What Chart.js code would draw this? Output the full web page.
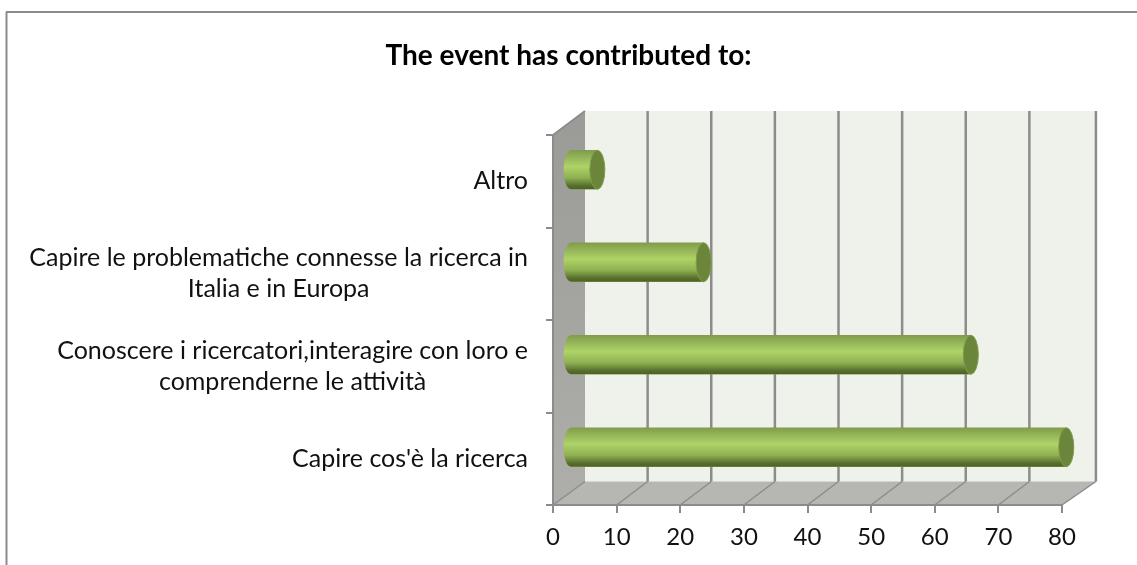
<!DOCTYPE html>
<html>
<head>
<meta charset="utf-8">
<title>The event has contributed to:</title>
<script src="https://cdn.jsdelivr.net/npm/chart.js@4"></script>
<style>
  html, body { margin: 0; padding: 0; background: #fff; }
  canvas { display: block; }
</style>
</head>
<body>
<canvas id="chart" width="1137" height="565"></canvas>
<script>
const chartTitle = 'The event has contributed to:';
const categories = [
  ['Altro'],
  ['Capire le problematiche connesse la ricerca in', 'Italia e in Europa'],
  ['Conoscere i ricercatori,interagire con loro e', 'comprenderne le attività'],
  ["Capire cos'è la ricerca"]
];
const values = [4.3, 21, 63, 78];
const xTicks = [0, 10, 20, 30, 40, 50, 60, 70, 80];

const lineGray = '#8c8c8c';
const depthX = 32, depthY = 23.5;
const barShiftX = 17, barShiftY = -11.5;
const capRx = 7.5;
const labelFont = '25px Lato';

function line(ctx, x1, y1, x2, y2, w) {
  ctx.beginPath();
  ctx.moveTo(x1, y1);
  ctx.lineTo(x2, y2);
  ctx.lineWidth = w || 2;
  ctx.strokeStyle = lineGray;
  ctx.stroke();
}

function poly(ctx, pts, fill) {
  ctx.beginPath();
  pts.forEach((p, i) => i ? ctx.lineTo(p[0], p[1]) : ctx.moveTo(p[0], p[1]));
  ctx.closePath();
  ctx.fillStyle = fill;
  ctx.fill();
}

function barGradient(ctx, y) {
  const g = ctx.createLinearGradient(0, y - 20, 0, y + 20);
  g.addColorStop(0, '#7f9a4c');
  g.addColorStop(0.1, '#8aa852');
  g.addColorStop(0.42, '#aed367');
  g.addColorStop(0.7, '#8fb052');
  g.addColorStop(0.9, '#566f2c');
  g.addColorStop(0.97, '#4d6426');
  g.addColorStop(1, '#8ca552');
  return g;
}

// floor, walls, back grid lines and the frame
const walls = {
  id: 'walls',
  beforeDraw(chart) {
    const { ctx, chartArea: a, scales: { x } } = chart;
    const backTop = a.top - 24, backBottom = a.bottom - depthY;
    ctx.save();
    line(ctx, 6.5, 12, 6.5, 565);
    line(ctx, 6, 12, 1137, 12);

    poly(ctx, [[a.left + depthX, backTop], [a.right + depthX + 2, backTop], [a.right + depthX + 2, backBottom], [a.left + depthX, backBottom]], '#eff1eb');
    poly(ctx, [[a.left, a.bottom], [a.left + depthX, backBottom], [a.right + depthX + 2, backBottom], [a.right, a.bottom]], '#b6b7b2');
    const wg = ctx.createLinearGradient(0, backTop, 0, a.bottom);
    wg.addColorStop(0, '#9a9b96');
    wg.addColorStop(1, '#aeafaa');
    poly(ctx, [[a.left, a.top], [a.left + depthX, backTop], [a.left + depthX, backBottom], [a.left, a.bottom]], wg);

    xTicks.forEach((t, i) => {
      if (!i) return;
      const px = x.getPixelForValue(t);
      const bx = px + depthX * (t === 80 ? 1.06 : 1) - (t === 80 ? 0 : 1);
      line(ctx, bx, backTop, bx, backBottom, 2.5);
      line(ctx, px, a.bottom, bx, backBottom, 1.5);
    });
    line(ctx, a.left, a.top, a.left + depthX, backTop);
    line(ctx, a.left, a.bottom, a.left + depthX, backBottom, 1.5);
    ctx.restore();
  },
  // bars sit halfway into the depth of the box, with cylinder ends
  beforeDatasetDraw(chart) {
    const { ctx } = chart;
    ctx.save();
    ctx.translate(barShiftX, barShiftY);
    chart.getDatasetMeta(0).data.forEach((bar) => {
      ctx.beginPath();
      ctx.ellipse(bar.base, bar.y, capRx, bar.height / 2, 0, Math.PI / 2, Math.PI * 1.5);
      ctx.fillStyle = barGradient(ctx, bar.y);
      ctx.fill();
    });
  },
  afterDatasetDraw(chart) {
    const { ctx } = chart;
    chart.getDatasetMeta(0).data.forEach((bar) => {
      ctx.beginPath();
      ctx.ellipse(bar.x, bar.y, capRx, bar.height / 2, 0, 0, Math.PI * 2);
      ctx.fillStyle = '#6b853a';
      ctx.fill();
      ctx.lineWidth = 1;
      ctx.strokeStyle = '#7f9c48';
      ctx.stroke();
    });
    ctx.restore();
  },
  afterDraw(chart) {
    const { ctx, scales: { y } } = chart;
    ctx.save();
    ctx.font = labelFont;
    ctx.fillStyle = '#111';
    ctx.textBaseline = 'middle';
    ctx.textAlign = 'center';
    categories.forEach((lines, i) => {
      const right = 528;
      const w = Math.max(...lines.map((s) => ctx.measureText(s).width));
      const cy = y.getPixelForTick(i);
      lines.forEach((s, k) => {
        ctx.fillText(s, right - w / 2, cy + (k - (lines.length - 1) / 2) * 31);
      });
    });
    ctx.restore();
  }
};

new Chart(document.getElementById('chart'), {
  type: 'bar',
  plugins: [walls],
  data: {
    labels: categories,
    datasets: [{
      data: values,
      barThickness: 39,
      borderWidth: 0,
      backgroundColor: (c) => barGradient(c.chart.ctx, c.chart.scales.y.getPixelForTick(c.dataIndex))
    }]
  },
  options: {
    indexAxis: 'y',
    responsive: false,
    animation: false,
    events: [],
    layout: { padding: { left: 75, right: 75, top: 0, bottom: 0 } },
    plugins: {
      legend: { display: false },
      tooltip: { enabled: false },
      title: {
        display: true,
        text: chartTitle,
        color: '#000',
        font: { family: 'Lato', size: 28, weight: 'bold', lineHeight: '34px' },
        padding: { top: 39, bottom: 62 }
      }
    },
    scales: {
      x: {
        min: 0,
        max: 80,
        afterFit: (s) => { s.height = 60; },
        afterBuildTicks: (s) => { s.ticks = xTicks.map((v) => ({ value: v })); },
        border: { color: lineGray, width: 2 },
        grid: { drawOnChartArea: false, color: lineGray, lineWidth: 2, tickLength: 8 },
        ticks: { color: '#111', font: { family: 'Lato', size: 24 }, padding: 10, maxRotation: 0 }
      },
      y: {
        afterFit: (s) => { s.width = 478; },
        border: { color: lineGray, width: 2 },
        grid: { drawOnChartArea: false, color: lineGray, lineWidth: 2, tickLength: 7 },
        ticks: { display: false }
      }
    }
  }
});
</script>
</body>
</html>
